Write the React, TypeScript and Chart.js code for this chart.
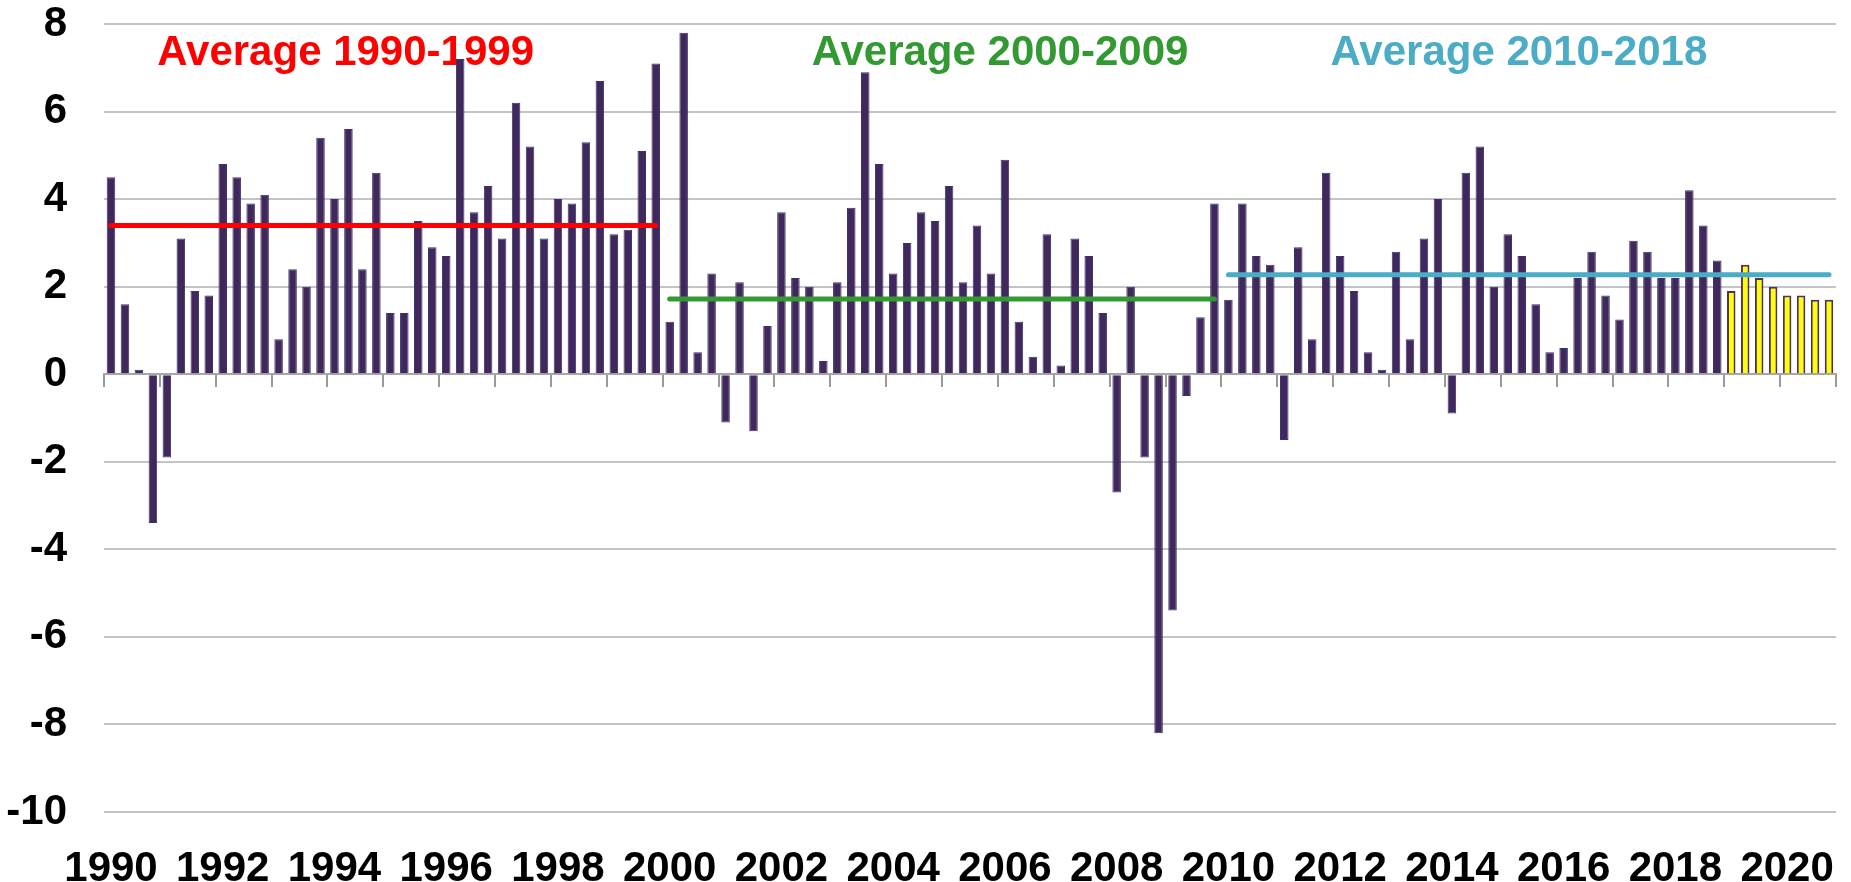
import React, { useEffect, useRef } from "react";
import { Chart, registerables } from "chart.js";

Chart.register(...registerables);

// ---- data ----
const years = [
  1990, 1991, 1992, 1993, 1994, 1995, 1996, 1997, 1998, 1999,
  2000, 2001, 2002, 2003, 2004, 2005, 2006, 2007, 2008, 2009,
  2010, 2011, 2012, 2013, 2014, 2015, 2016, 2017, 2018, 2019, 2020,
];
const quarters = ["Q1", "Q2", "Q3", "Q4"];
const categories = years.flatMap((y) => quarters.map((q) => `${y} ${q}`));

const growth = [
  4.5, 1.6, 0.1, -3.4, // 1990
  -1.9, 3.1, 1.9, 1.8, // 1991
  4.8, 4.5, 3.9, 4.1, // 1992
  0.8, 2.4, 2.0, 5.4, // 1993
  4.0, 5.6, 2.4, 4.6, // 1994
  1.4, 1.4, 3.5, 2.9, // 1995
  2.7, 7.2, 3.7, 4.3, // 1996
  3.1, 6.2, 5.2, 3.1, // 1997
  4.0, 3.9, 5.3, 6.7, // 1998
  3.2, 3.3, 5.1, 7.1, // 1999
  1.2, 7.8, 0.5, 2.3, // 2000
  -1.1, 2.1, -1.3, 1.1, // 2001
  3.7, 2.2, 2.0, 0.3, // 2002
  2.1, 3.8, 6.9, 4.8, // 2003
  2.3, 3.0, 3.7, 3.5, // 2004
  4.3, 2.1, 3.4, 2.3, // 2005
  4.9, 1.2, 0.4, 3.2, // 2006
  0.2, 3.1, 2.7, 1.4, // 2007
  -2.7, 2.0, -1.9, -8.2, // 2008
  -5.4, -0.5, 1.3, 3.9, // 2009
  1.7, 3.9, 2.7, 2.5, // 2010
  -1.5, 2.9, 0.8, 4.6, // 2011
  2.7, 1.9, 0.5, 0.1, // 2012
  2.8, 0.8, 3.1, 4.0, // 2013
  -0.9, 4.6, 5.2, 2.0, // 2014
  3.2, 2.7, 1.6, 0.5, // 2015
  0.6, 2.2, 2.8, 1.8, // 2016
  1.25, 3.05, 2.8, 2.2, // 2017
  2.2, 4.2, 3.4, 2.6, // 2018
  1.9, 2.5, 2.2, 2.0, // 2019 (forecast)
  1.8, 1.8, 1.7, 1.7, // 2020 (forecast)
];
const forecastFrom = "2019 Q1";

const avgLabels = ["Average 1990-1999", "Average 2000-2009", "Average 2010-2018"];
const avgValues = [3.4, 1.72, 2.27];
const avgFrom = ["1990 Q1", "2000 Q1", "2010 Q1"];
const avgTo = ["1999 Q4", "2009 Q4", "2020 Q4"];
const avgColors = ["#FF0000", "#339933", "#4BACC6"];

const yMin = -10;
const yMax = 8;
const yStep = 2;

// ---- layout / style constants ----
const FONT_FAMILY = '"Liberation Sans", Arial, Helvetica, sans-serif';
const textCenterIdx = [16.8, 63.65, 100.8];
const textBaselineValue = 7.06;
const BAR_COLOR = "#41285A";
const BAR_BORDER = "#37307A";
const FC_COLOR = "#FFFF00";
const FC_BORDER = "#4E3358";

const avgTextPlugin = {
  id: "avgText",
  beforeDatasetsDraw(chart: any) {
    const { ctx, scales } = chart;
    const x = scales.x;
    const y = scales.y;
    ctx.save();
    ctx.font = `bold 42px ${FONT_FAMILY}`;
    ctx.textAlign = "center";
    ctx.textBaseline = "alphabetic";
    avgLabels.forEach((t, i) => {
      ctx.fillStyle = avgColors[i];
      ctx.fillText(t, x.getPixelForValue(textCenterIdx[i]), y.getPixelForValue(textBaselineValue));
    });
    ctx.restore();
  },
};

export default function App() {
  const ref = useRef<HTMLCanvasElement | null>(null);

  useEffect(() => {
    if (!ref.current) return;
    const fIdx = categories.indexOf(forecastFrom);

    const lineSets = avgValues.map((v, k) => {
      const a = categories.indexOf(avgFrom[k]);
      const b = categories.indexOf(avgTo[k]);
      return {
        type: "line" as const,
        label: avgLabels[k],
        data: categories.map((_, i) => (i >= a && i <= b ? v : null)),
        borderColor: avgColors[k],
        backgroundColor: avgColors[k],
        borderWidth: 5,
        borderCapStyle: "round" as const,
        pointRadius: 0,
        fill: false,
        order: 0,
      };
    });

    const tickFont = { family: FONT_FAMILY, size: 42, weight: "bold" as const, lineHeight: 1 };

    const chart = new Chart(ref.current, {
      type: "bar",
      data: {
        labels: categories,
        datasets: [
          ...lineSets,
          {
            type: "bar" as const,
            label: "Growth",
            data: growth,
            backgroundColor: growth.map((_, i) => (i >= fIdx ? FC_COLOR : BAR_COLOR)),
            borderColor: growth.map((_, i) => (i >= fIdx ? FC_BORDER : BAR_BORDER)),
            borderWidth: growth.map((_, i) => (i >= fIdx ? 2 : 1)),
            barPercentage: 0.61,
            categoryPercentage: 1,
            order: 1,
          },
        ] as any,
      },
      options: {
        animation: false,
        responsive: false,
        layout: { padding: { top: 24, left: 6, right: 15, bottom: 0 } },
        plugins: {
          legend: { display: false },
          tooltip: { enabled: false },
        },
        scales: {
          x: {
            type: "category",
            position: "bottom",
            offset: true,
            grid: { display: false },
            border: { display: false },
            afterFit: (s: any) => {
              s.height = 70;
              s.paddingLeft = 0;
              s.paddingRight = 0;
            },
            ticks: {
              autoSkip: false,
              maxRotation: 0,
              minRotation: 0,
              padding: 28,
              color: "#000000",
              font: tickFont,
              callback: (_v: any, i: number) => {
                const [yr, q] = categories[i].split(" ");
                return q === "Q1" && Number(yr) % 2 === 0 ? yr : "";
              },
            },
          },
          x2: {
            type: "category",
            labels: categories,
            position: { y: 0 } as any,
            offset: true,
            grid: {
              offset: true,
              drawOnChartArea: false,
              drawTicks: true,
              tickLength: 12,
              lineWidth: 2,
              color: (ctx: any) =>
                ctx.index === undefined || ctx.index % 4 === 0 ? "#9A9A9A" : "rgba(0,0,0,0)",
            },
            border: { display: true, color: "#A6A6A6", width: 2 },
            ticks: { display: false },
            afterFit: (s: any) => {
              s.paddingLeft = 0;
              s.paddingRight = 0;
              s.paddingTop = 0;
              s.paddingBottom = 0;
            },
          },
          y: {
            min: yMin,
            max: yMax,
            afterFit: (s: any) => {
              s.width = 98;
              s.paddingTop = 0;
              s.paddingBottom = 0;
            },
            ticks: {
              stepSize: yStep,
              padding: 37,
              color: "#000000",
              font: tickFont,
            },
            grid: { color: "#C4C4C4", lineWidth: 2, drawTicks: false },
            border: { display: false },
          },
        } as any,
      },
      plugins: [avgTextPlugin],
    });

    return () => chart.destroy();
  }, []);

  return (
    <div style={{ position: "absolute", left: 0, top: 0, width: 1851, height: 882, background: "#fff" }}>
      <canvas ref={ref} width={1851} height={882} style={{ display: "block" }} />
    </div>
  );
}
